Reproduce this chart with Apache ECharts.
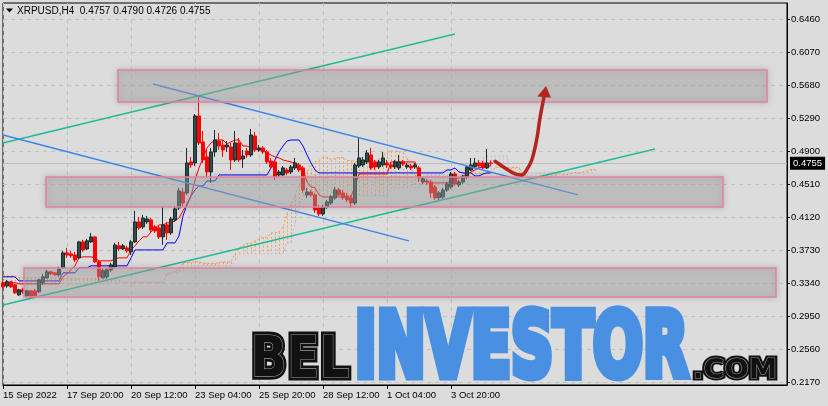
<!DOCTYPE html>
<html><head><meta charset="utf-8">
<script src="https://cdn.jsdelivr.net/npm/echarts@6/dist/echarts.min.js"></script>
<style>html,body{margin:0;padding:0;background:#dcdcdc}#c{width:828px;height:406px}</style>
</head><body><div id="c"></div>
<script>
// ---------- data ----------
const symbolName = 'XRPUSD,H4';
const xTickBars = [0, 16, 32, 48, 64, 80, 96, 112];
const xTickLabels = ['15 Sep 2022', '17 Sep 20:00', '20 Sep 12:00', '23 Sep 04:00', '25 Sep 20:00', '28 Sep 12:00', '1 Oct 04:00', '3 Oct 20:00'];
const yTicks = [0.6460, 0.6070, 0.5680, 0.5290, 0.4900, 0.4510, 0.4120, 0.3730, 0.3340, 0.2950, 0.2560, 0.2170];
const yMin = 0.21346, yMax = 0.6649, xMax = 196;

// H4 candles: [open, close, low, high]
const ohlc = [
[.3342,.3295,.3271,.3365],[.3306,.3354,.3283,.3377],[.3354,.3295,.3283,.3365],[.3318,.3224,.3212,.3330],[.3200,.3259,.3188,.3271],
[.3259,.3236,.3212,.3283],[.3188,.3247,.3177,.3259],[.3247,.3177,.3165,.3259],[.3247,.3188,.3177,.3271],[.3236,.3377,.3224,.3389],
[.3342,.3413,.3318,.3448],[.3401,.3472,.3389,.3495],[.3472,.3448,.3436,.3484],[.3460,.3436,.3424,.3472],[.3436,.3507,.3413,.3531],
[.3519,.3696,.3507,.3720],[.3696,.3672,.3637,.3755],[.3684,.3661,.3637,.3720],[.3672,.3613,.3590,.3708],[.3637,.3826,.3625,.3838],
[.3826,.3731,.3708,.3850],[.3743,.3838,.3731,.3861],[.3826,.3885,.3814,.3932],[.3885,.3590,.3578,.3897],[.3590,.3413,.3365,.3613],
[.3401,.3484,.3389,.3507],[.3413,.3495,.3389,.3519],[.3495,.3554,.3472,.3578],[.3531,.3790,.3519,.3814],[.3779,.3743,.3720,.3826],
[.3743,.3779,.3731,.3802],[.3755,.3720,.3696,.3779],[.3708,.3826,.3672,.3850],[.3826,.4062,.3814,.4192],[.4062,.3991,.3968,.4121],
[.4003,.4109,.3979,.4145],[.4062,.4097,.4038,.4133],[.4086,.3968,.3944,.4109],[.4003,.3956,.3932,.4027],[.3991,.3885,.3861,.4015],
[.3885,.4027,.3790,.4239],[.4027,.3932,.3850,.4062],[.3932,.4097,.3909,.4121],[.4086,.4216,.4062,.4251],[.4227,.4428,.4204,.4464],
[.4416,.4286,.4251,.4464],[.4405,.4759,.4381,.4936],[.4771,.4735,.4700,.4830],[.4759,.5314,.4723,.5337],[.5314,.4995,.4971,.5562],
[.5007,.4794,.4759,.5137],[.4830,.4652,.4582,.4912],[.4652,.4889,.4523,.4936],[.4889,.5030,.4830,.5148],[.5018,.4959,.4912,.5113],
[.4971,.4912,.4830,.5030],[.4948,.4971,.4889,.5018],[.4948,.4794,.4676,.4995],[.4794,.4995,.4771,.5137],[.4995,.4794,.4771,.5054],
[.4806,.4841,.4700,.4912],[.4900,.4853,.4818,.4936],[.4853,.5089,.4830,.5160],[.5077,.4912,.4889,.5125],[.4912,.4936,.4889,.4971],
[.4936,.4889,.4865,.4959],[.4889,.4771,.4747,.4912],[.4782,.4712,.4688,.4818],[.4771,.4593,.4558,.4794],[.4617,.4652,.4593,.4676],
[.4617,.4700,.4605,.4723],[.4676,.4641,.4617,.4700],[.4652,.4712,.4629,.4735],[.4700,.4759,.4676,.4818],[.4735,.4676,.4652,.4759],
[.4700,.4440,.4405,.4723],[.4381,.4416,.4346,.4464],[.4416,.4381,.4357,.4440],[.4381,.4204,.4168,.4405],[.4227,.4156,.4133,.4263],
[.4156,.4239,.4133,.4263],[.4239,.4298,.4216,.4322],[.4286,.4357,.4263,.4381],[.4346,.4440,.4322,.4475],[.4440,.4381,.4357,.4464],
[.4405,.4346,.4322,.4440],[.4369,.4322,.4298,.4405],[.4346,.4286,.4227,.4381],[.4286,.4735,.4263,.4759],[.4723,.4818,.4700,.5054],
[.4735,.4794,.4712,.4830],[.4771,.4877,.4747,.4912],[.4853,.4700,.4676,.4936],[.4771,.4712,.4676,.4794],[.4712,.4771,.4688,.4794],
[.4735,.4818,.4712,.4889],[.4759,.4735,.4700,.4794],[.4735,.4712,.4688,.4771],[.4712,.4771,.4688,.4794],[.4700,.4771,.4676,.4853],
[.4771,.4747,.4723,.4794],[.4712,.4735,.4688,.4759],[.4723,.4700,.4676,.4747],[.4712,.4735,.4688,.4759],[.4700,.4582,.4534,.4723],
[.4534,.4570,.4511,.4593],[.4546,.4534,.4499,.4570],[.4534,.4405,.4346,.4558],[.4475,.4346,.4322,.4499],[.4346,.4405,.4322,.4428],
[.4357,.4440,.4334,.4464],[.4440,.4511,.4416,.4534],[.4475,.4629,.4452,.4652],[.4629,.4511,.4487,.4652],[.4499,.4534,.4475,.4558],
[.4534,.4593,.4511,.4617],[.4593,.4712,.4570,.4735],[.4676,.4735,.4664,.4818],[.4712,.4759,.4700,.4818],[.4759,.4723,.4700,.4794],
[.4759,.4700,.4688,.4782],[.4700,.4759,.4688,.4924],[.4757,.4755,.4726,.4790]
];

// Ichimoku
const tenkan = [
.3342,.3342,.3342,.3342,.3330,.3330,.3330,.3330,.3330,.3330,
.3330,.3330,.3330,.3330,.3330,.3413,.3448,.3495,.3543,.3637,
.3649,.3649,.3649,.3637,.3602,.3602,.3602,.3602,.3625,.3637,
.3637,.3637,.3731,.3779,.3838,.3885,.3885,.3944,.3991,.4027,
.4027,.4050,.4050,.4074,.4109,.4192,.4275,.4369,.4558,.4700,
.4818,.4936,.4995,.5030,.5030,.5030,.4983,.5007,.5030,.5030,
.4959,.4959,.4936,.4936,.4912,.4912,.4877,.4853,.4830,.4818,
.4794,.4782,.4771,.4759,.4735,.4676,.4534,.4475,.4464,.4381,
.4357,.4357,.4357,.4357,.4357,.4357,.4357,.4357,.4487,.4629,
.4629,.4629,.4629,.4629,.4629,.4629,.4629,.4771,.4771,.4771,
.4771,.4771,.4771,.4771,.4617,.4558,.4523,.4523,.4523,.4523,
.4523,.4523,.4546,.4570,.4582,.4605,.4629,.4652,.4676,.4700,
.4712,.4723,.4723
];
const kijun = [
.3413,.3413,.3413,.3413,.3365,.3365,.3365,.3365,.3365,.3365,
.3365,.3365,.3365,.3365,.3365,.3460,.3460,.3460,.3460,.3519,
.3519,.3519,.3543,.3543,.3543,.3543,.3543,.3543,.3543,.3543,
.3543,.3543,.3637,.3731,.3731,.3731,.3731,.3731,.3731,.3731,
.3731,.3814,.3814,.3814,.3897,.4133,.4263,.4369,.4440,.4487,
.4487,.4546,.4546,.4546,.4617,.4617,.4617,.4617,.4617,.4617,
.4617,.4617,.4617,.4617,.4617,.4617,.4617,.4700,.4794,.4889,
.4959,.5018,.5030,.5030,.5030,.4959,.4853,.4759,.4676,.4641,
.4641,.4641,.4641,.4641,.4641,.4641,.4641,.4641,.4641,.4641,
.4641,.4641,.4641,.4641,.4641,.4641,.4641,.4641,.4641,.4641,
.4641,.4641,.4641,.4641,.4641,.4641,.4641,.4641,.4641,.4641,
.4641,.4676,.4676,.4700,.4652,.4641,.4641,.4641,.4605,.4605,
.4629,.4641,.4641
];
const spanA = [
.3424,.3424,.3424,.3424,.3401,.3401,.3401,.3401,.3401,.3401,
.3401,.3401,.3401,.3401,.3401,.3389,.3389,.3389,.3389,.3389,
.3389,.3389,.3389,.3389,.3389,.3389,.3377,.3377,.3377,.3377,
.3348,.3348,.3348,.3348,.3348,.3348,.3348,.3348,.3348,.3348,
.3348,.3436,.3454,.3478,.3501,.3578,.3584,.3584,.3596,.3590,
.3572,.3572,.3572,.3572,.3584,.3590,.3590,.3590,.3684,.3755,
.3785,.3808,.3808,.3838,.3861,.3879,.3879,.3932,.3932,.3944,
.4003,.4162,.4269,.4369,.4499,.4593,.4652,.4741,.4771,.4788,
.4824,.4824,.4800,.4812,.4824,.4824,.4788,.4788,.4777,.4777,
.4765,.4765,.4747,.4777,.4812,.4853,.4877,.4900,.4900,.4895,
.4883,.4818,.4694,.4617,.4570,.4511,.4499,.4499,.4499,.4499,
.4499,.4499,.4499,.4499,.4564,.4635,.4635,.4635,.4635,.4635,
.4635,.4635,.4635,.4706,.4706,.4706,.4706,.4706,.4706,.4706,
.4629,.4599,.4582,.4582,.4582,.4582,.4582,.4599,.4611,.4635,
.4617,.4623,.4635,.4646,.4641,.4652,.4670,.4682,.4682
];
const spanB = [
.3330,.3330,.3330,.3330,.3330,.3330,.3330,.3330,.3330,.3330,
.3330,.3330,.3330,.3330,.3330,.3330,.3330,.3330,.3330,.3330,
.3330,.3330,.3330,.3330,.3330,.3330,.3342,.3342,.3342,.3342,
.3342,.3342,.3342,.3342,.3342,.3342,.3342,.3342,.3342,.3342,
.3342,.3460,.3460,.3460,.3460,.3507,.3507,.3507,.3543,.3543,
.3543,.3543,.3543,.3543,.3543,.3543,.3543,.3543,.3590,.3684,
.3684,.3684,.3684,.3684,.3684,.3684,.3684,.3684,.3684,.3684,
.3684,.3814,.3814,.4050,.4251,.4369,.4369,.4369,.4369,.4369,
.4369,.4369,.4369,.4369,.4369,.4369,.4369,.4369,.4369,.4369,
.4369,.4369,.4369,.4369,.4369,.4369,.4369,.4464,.4464,.4464,
.4464,.4464,.4464,.4464,.4464,.4534,.4617,.4617,.4617,.4617,
.4676,.4676,.4676,.4676,.4676,.4676,.4676,.4676,.4700,.4735,
.4818,.4841,.4841,.4841,.4841,.4841,.4841,.4629,.4641,.4641,
.4641,.4641,.4641,.4641,.4641,.4641,.4641,.4641,.4641,.4641,
.4641,.4641,.4641,.4641,.4641,.4641,.4641,.4641,.4641
];

// drawn objects (bar index / price)
const zoneFrom = [28.75, 10.75, 5.25];
const zoneTo   = [191, 180, 193.25];
const zoneHigh = [0.5857, 0.4593, 0.3519];
const zoneLow  = [0.5479, 0.4239, 0.3177];
const tealUpper = [[0, 0.4995], [113, 0.6283]];
const tealLower = [[0, 0.3080], [163, 0.4924]];
const blueLower = [[0, 0.5089], [101.5, 0.3838]];
const blueUpper = [[37.5, 0.5692], [143.75, 0.4381]];
const arrowPath = [[123,0.4779],[125.5,0.4700],[128,0.4629],[129.7,0.4617],[130.9,0.4676],[132.2,0.4794],[133.4,0.5030],[134.25,0.5290],[135.1,0.5503],[135.4,0.5575]];
const arrowHead = [[135.75,0.5668],[133.6,0.5545],[137.0,0.5530]];

// ---------- chart ----------
const chart = echarts.init(document.getElementById('c'), null, {renderer: 'canvas', width: 828, height: 406});
const bars = ohlc.map((d, i) => [i, d[0], d[1], d[2], d[3]]);
const idx = arr => arr.map((v, i) => [i, v]);
const last = ohlc[ohlc.length - 1];
const fmt = v => Number(v).toFixed(4);
const LAB = '"Liberation Sans", Arial, sans-serif';

function fitWord(text, family, weight, left, right, capTop, capBottom, sw) {
  const ctx = document.createElement('canvas').getContext('2d');
  ctx.textBaseline = 'middle';
  ctx.font = weight + ' 100px ' + family;
  const h = ctx.measureText('H');
  const capH = h.actualBoundingBoxAscent + h.actualBoundingBoxDescent;
  const fs = 100 * (capBottom - capTop - sw) / capH;
  ctx.font = weight + ' ' + fs + 'px ' + family;
  const m = ctx.measureText(text);
  const h2 = ctx.measureText('H');
  const inkLeft = -m.actualBoundingBoxLeft;
  const inkW = m.actualBoundingBoxLeft + m.actualBoundingBoxRight;
  const sx = (right - left) / (inkW + sw);
  return {font: weight + ' ' + fs + 'px ' + family, sx: sx,
          x: left - (inkLeft - sw / 2) * sx, y: capBottom - sw / 2 - h2.actualBoundingBoxDescent};
}
function wordEls(text, fw, styles, z) {
  return styles.map((st, k) => ({type: 'text', x: fw.x, y: fw.y, scaleX: fw.sx, scaleY: 1, z: z + k, silent: true,
    style: Object.assign({text: text, font: fw.font, textAlign: 'left', textVerticalAlign: 'middle', align: 'left', verticalAlign: 'middle'}, st)}));
}
const WF = '"DejaVu Sans", sans-serif';
const belF = fitWord('BEL', WF, 'bold', 252, 352, 331, 380, 7);
const invF = fitWord('INVESTOR', WF, 'bold', 357, 690, 306, 380, 9);
const comF = fitWord('.COM', WF, 'bold', 692, 778, 356, 380, 5);

const gridLineStyle = {color: '#c2c2c2', type: [4, 4], width: 1};

const option = {
  backgroundColor: '#dcdcdc',
  animation: false,
  grid: {left: 3, top: 3, right: 41, bottom: 21, show: true, borderColor: '#000', borderWidth: 1, backgroundColor: 'transparent'},
  xAxis: {
    type: 'value', min: 0, max: xMax, interval: 16,
    axisLine: {show: true, onZero: false, lineStyle: {color: '#000', width: 1}},
    axisTick: {show: true, length: 4, customValues: xTickBars, lineStyle: {color: '#000'}},
    axisLabel: {customValues: xTickBars, align: 'left', margin: 5, color: '#000', fontSize: 9.5, fontFamily: LAB,
      formatter: v => xTickLabels[xTickBars.indexOf(Math.round(v))] || ''},
    splitLine: {show: true, lineStyle: gridLineStyle}
  },
  yAxis: {
    type: 'value', position: 'right', min: yMin, max: yMax, scale: true,
    axisLine: {show: true, onZero: false, lineStyle: {color: '#000', width: 1}},
    axisTick: {show: true, length: 3, customValues: yTicks, lineStyle: {color: '#000'}},
    axisLabel: {customValues: yTicks, margin: 4, color: '#000', fontSize: 9.5, fontFamily: LAB, formatter: v => fmt(v)},
    splitLine: {show: false}
  },
  series: [
    { // Kumo (dotted histogram between spans)
      type: 'custom', z: 2, silent: true,
      data: spanA.map((a, i) => [i, a, spanB[i]]),
      encode: {x: 0, y: [1, 2]},
      renderItem: (params, api) => {
        const x = api.value(0), a = api.value(1), b = api.value(2);
        const pa = api.coord([x, a]), pb = api.coord([x, b]);
        const px = Math.round(pa[0]) + 0.5;
        return {type: 'line', shape: {x1: px, y1: pa[1], x2: px, y2: pb[1]},
          style: {stroke: a >= b ? '#F4A460' : '#D8BFD8', lineWidth: 1, lineDash: [2, 2]}};
      },
      markLine: {silent: true, symbol: ['none', 'none'], z: 1, precision: 4, label: {show: false},
        lineStyle: gridLineStyle, data: yTicks.map(v => ({yAxis: v}))}
    },
    {type: 'line', z: 2, data: idx(spanA), showSymbol: false, silent: true, lineStyle: {color: '#f29a52', width: 1, type: [2, 2]}},
    {type: 'line', z: 2, data: idx(spanB), showSymbol: false, silent: true, lineStyle: {color: '#d4b4d4', width: 1, type: [2, 2]}},
    {type: 'line', z: 3, data: idx(kijun), showSymbol: false, silent: true, lineStyle: {color: '#0000ff', width: 1}},
    {type: 'line', z: 3, data: idx(tenkan), showSymbol: false, silent: true, lineStyle: {color: '#ff0000', width: 1}},
    {
      type: 'candlestick', z: 4, data: bars, encode: {x: 0, y: [1, 2, 3, 4]}, barWidth: 3, silent: true,
      itemStyle: {color: '#2f4f4f', color0: '#ff0000', borderColor: '#1b2b2b', borderColor0: '#ff0000', borderWidth: 1},
      markLine: {silent: true, symbol: ['none', 'none'], z: 3, precision: 4,
        lineStyle: {color: '#bdbdbd', type: 'solid', width: 1},
        label: {show: true, position: 'end', distance: 3, formatter: p => fmt(p.value), color: '#fff', backgroundColor: '#000',
          padding: [2, 3, 1, 3], fontSize: 9.5, fontFamily: LAB},
        data: [{yAxis: last[1]}]}
    },
    {type: 'line', z: 5, data: tealUpper, showSymbol: false, silent: true, lineStyle: {color: '#22bb98', width: 1.6}},
    {type: 'line', z: 5, data: tealLower, showSymbol: false, silent: true, lineStyle: {color: '#22bb98', width: 1.6}},
    {type: 'line', z: 5, data: blueLower, showSymbol: false, silent: true, lineStyle: {color: '#3a86e8', width: 1.4}},
    {type: 'line', z: 5, data: blueUpper, showSymbol: false, silent: true, lineStyle: {color: '#3a86e8', width: 1.4}},
    { // zones
      type: 'custom', z: 6, silent: true,
      data: zoneFrom.map((f, i) => [f, zoneTo[i], zoneHigh[i], zoneLow[i]]),
      encode: {x: [0, 1], y: [2, 3]},
      renderItem: (params, api) => {
        const p0 = api.coord([api.value(0), api.value(2)]);
        const p1 = api.coord([api.value(1), api.value(3)]);
        return {type: 'rect', shape: {x: Math.round(p0[0]), y: Math.round(p0[1]), width: Math.round(p1[0] - p0[0]), height: Math.round(p1[1] - p0[1])},
          style: {fill: 'rgba(178,178,178,0.4)', stroke: '#e2819e', lineWidth: 1.5, shadowBlur: 6, shadowColor: 'rgba(0,0,0,0.25)'}};
      }
    },
    {type: 'line', z: 7, data: arrowPath, smooth: 0.35, showSymbol: false, silent: true,
      lineStyle: {color: '#b3261e', width: 3.5, cap: 'round'}},
    {
      type: 'custom', z: 7, silent: true, data: [arrowHead[0]], encode: {x: 0, y: 1},
      renderItem: (params, api) => ({type: 'polygon', shape: {points: arrowHead.map(p => api.coord(p))},
        style: {fill: '#b3261e'}})
    }
  ],
  graphic: [].concat(
    [{type: 'polygon', z: 50, silent: true, shape: {points: [[6, 8.5], [13, 8.5], [9.5, 12.5]]}, style: {fill: '#000'}},
     {type: 'text', x: 17, y: 11, z: 50, silent: true,
      style: {text: symbolName + '  ' + [last[0], last[3], last[2], last[1]].map(fmt).join(' '), fill: '#000',
        font: '10px ' + LAB, textAlign: 'left', textVerticalAlign: 'middle', align: 'left', verticalAlign: 'middle'}}],
    wordEls('BEL', belF, [{fill: '#111', stroke: '#111', lineWidth: 7}, {fill: '#111', stroke: '#9a9a9a', lineWidth: 1.2}], 60),
    wordEls('INVESTOR', invF, [{fill: '#4a90e2', stroke: '#4a90e2', lineWidth: 9, lineJoin: 'miter', shadowBlur: 3, shadowColor: 'rgba(0,0,0,0.35)', shadowOffsetX: 1, shadowOffsetY: 1}], 60),
    wordEls('.COM', comF, [{fill: '#111', stroke: '#111', lineWidth: 5}, {fill: '#111', stroke: '#9a9a9a', lineWidth: 1}], 60)
  )
};
chart.setOption(option);
</script>
</body></html>
